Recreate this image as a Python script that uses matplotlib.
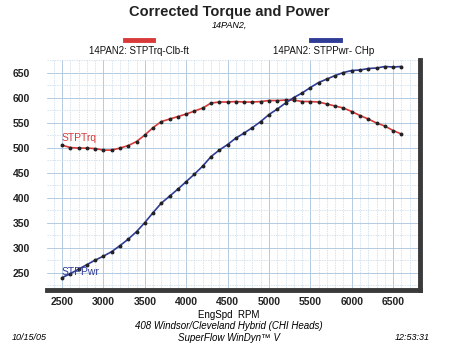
import numpy as np
import matplotlib.pyplot as plt
from matplotlib.ticker import MultipleLocator

rpm = [2500, 2600, 2700, 2800, 2900, 3000, 3100, 3200, 3300, 3400,
       3500, 3600, 3700, 3800, 3900, 4000, 4100, 4200, 4300, 4400,
       4500, 4600, 4700, 4800, 4900, 5000, 5100, 5200, 5300, 5400,
       5500, 5600, 5700, 5800, 5900, 6000, 6100, 6200, 6300, 6400,
       6500, 6600]
torque = [505, 500, 499, 499, 498, 495, 495, 499, 504, 512,
          525, 540, 552, 557, 562, 567, 573, 579, 589, 591,
          591, 592, 591, 591, 592, 594, 594, 595, 595, 592,
          592, 591, 587, 583, 579, 572, 564, 557, 549, 543,
          534, 527]
power = [240, 248, 257, 266, 275, 283, 292, 304, 317, 332,
         350, 370, 389, 403, 417, 432, 447, 463, 482, 495,
         506, 519, 529, 540, 552, 566, 577, 589, 600, 609,
         620, 630, 637, 644, 650, 654, 655, 658, 659, 662,
         661, 662]

xticks = [2500, 3000, 3500, 4000, 4500, 5000, 5500, 6000, 6500]
yticks = [250, 300, 350, 400, 450, 500, 550, 600, 650]

plt.rcParams['font.family'] = ['Liberation Sans', 'DejaVu Sans']

fig = plt.figure(figsize=(4.5, 3.47), dpi=100)
ax = fig.add_axes([47/450, 1 - 290/347, 373/450, 230/347])

red = '#d83a3a'
blue = '#2e3c96'
ax.plot(rpm, torque, color=red, lw=1.2, marker='o', ms=1.8, mfc='#222222', mec='#222222', zorder=3)
ax.plot(rpm, power, color=blue, lw=1.2, marker='o', ms=1.8, mfc='#222222', mec='#222222', zorder=3)

ax.set_xlim(2319, 6824)
ax.set_ylim(215.4, 675)
ax.set_xticks(xticks)
ax.set_yticks(yticks)
ax.xaxis.set_minor_locator(MultipleLocator(100))
ax.yaxis.set_minor_locator(MultipleLocator(25))
ax.grid(which='major', color='#a8c4dc', lw=0.6)
ax.grid(which='minor', color='#c4d8e8', lw=0.5, ls=(0, (2, 1.5)))
ax.tick_params(which='both', length=0)
ax.tick_params(axis='x', labelsize=7.5, pad=5)
ax.tick_params(axis='y', labelsize=7.5, pad=12)
for lbl in ax.get_xticklabels() + ax.get_yticklabels():
    lbl.set_fontweight('bold')
    lbl.set_color('#222222')

for s in ['left', 'top']:
    ax.spines[s].set_visible(False)
for s in ['right', 'bottom']:
    ax.spines[s].set_color('#3a3a3a')
    ax.spines[s].set_linewidth(3.5)

ax.text(rpm[0], torque[0] + 4, 'STPTrq', color=red, fontsize=7.5, ha='left', va='bottom')
ax.text(rpm[0], power[0] + 2, 'STPPwr', color=blue, fontsize=7.5, ha='left', va='bottom')

fig.text(229/450, 1 - 12/347, 'Corrected Torque and Power', fontsize=10.5, fontweight='bold',
         ha='center', va='center', color='#222222')
fig.text(229/450, 1 - 25/347, '14PAN2,', fontsize=6.5, style='italic', ha='center', va='center')

fig.add_artist(plt.Line2D([125/450, 153/450], [1 - 40/347] * 2, color=red, lw=3.5))
fig.add_artist(plt.Line2D([311/450, 340/450], [1 - 40/347] * 2, color=blue, lw=3.5))
fig.text(139/450, 1 - 51/347, '14PAN2: STPTrq-Clb-ft', fontsize=7, ha='center', va='center',
         color='#111111')
fig.text(324/450, 1 - 51/347, '14PAN2: STPPwr- CHp', fontsize=7, ha='center', va='center',
         color='#111111')

fig.text(229/450, 1 - 315/347, 'EngSpd  RPM', fontsize=7, ha='center', va='center')
fig.text(229/450, 1 - 326/347, '408 Windsor/Cleveland Hybrid (CHI Heads)', fontsize=7,
         style='italic', ha='center', va='center')
fig.text(229/450, 1 - 338/347, 'SuperFlow WinDyn\u2122 V', fontsize=7, style='italic',
         ha='center', va='center')
fig.text(12/450, 1 - 338/347, '10/15/05', fontsize=6.5, style='italic', ha='left', va='center')
fig.text(430/450, 1 - 338/347, '12:53:31', fontsize=6.5, style='italic', ha='right', va='center')

fig.savefig('out.png', dpi=100, facecolor='white')
